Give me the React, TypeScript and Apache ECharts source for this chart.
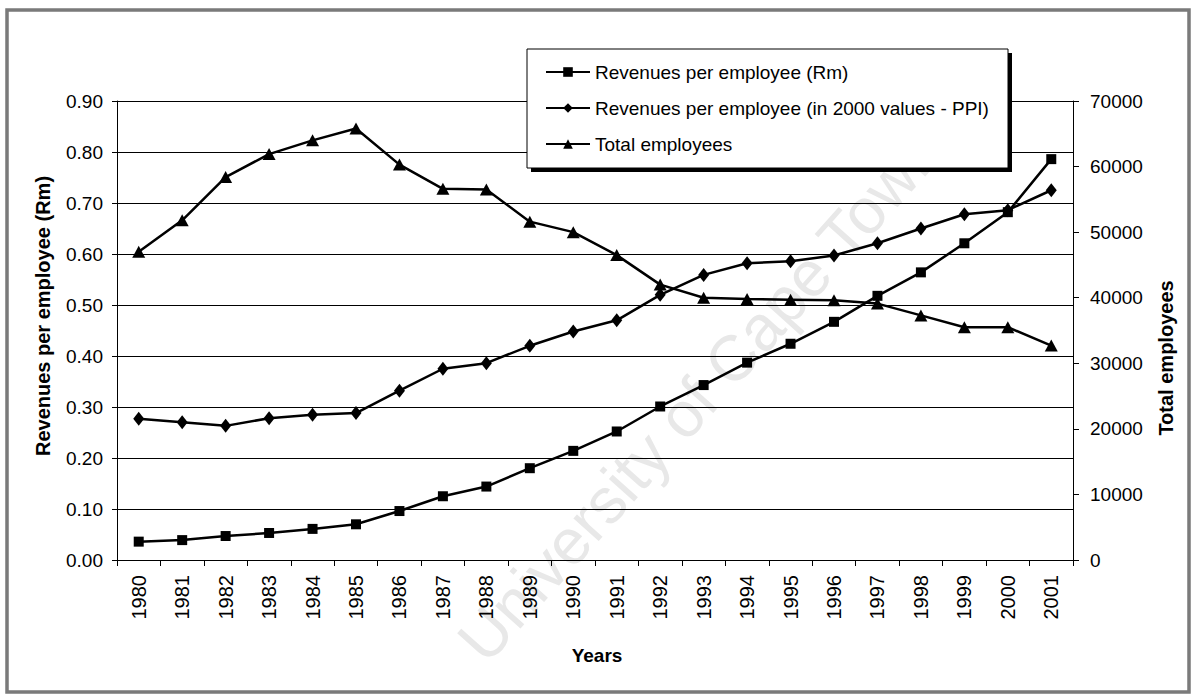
import React, { useEffect, useRef } from "react";
import * as echarts from "echarts";

const years = [
  "1980", "1981", "1982", "1983", "1984", "1985", "1986", "1987", "1988", "1989", "1990",
  "1991", "1992", "1993", "1994", "1995", "1996", "1997", "1998", "1999", "2000", "2001",
];

const revenuesRm = [
  0.036, 0.039, 0.047, 0.053, 0.061, 0.070, 0.096, 0.125, 0.144, 0.180, 0.214,
  0.252, 0.301, 0.343, 0.387, 0.424, 0.467, 0.518, 0.564, 0.621, 0.682, 0.786,
];

const revenuesPPI = [
  0.277, 0.270, 0.263, 0.278, 0.285, 0.288, 0.332, 0.375, 0.386, 0.420, 0.448,
  0.470, 0.520, 0.559, 0.582, 0.586, 0.597, 0.621, 0.650, 0.678, 0.686, 0.725,
];

const totalEmployees = [
  47000, 51800, 58400, 61900, 64000, 65800, 60300, 56600, 56500, 51600, 50000,
  46500, 42000, 40000, 39800, 39700, 39600, 39100, 37300, 35500, 35500, 32700,
];

const seriesNames = [
  "Revenues per employee (Rm)",
  "Revenues per employee (in 2000 values - PPI)",
  "Total employees",
];

const FONT = "'Liberation Sans', Arial, Helvetica, sans-serif";

export default function App() {
  const ref = useRef<HTMLDivElement>(null);

  useEffect(() => {
    if (!ref.current) return;
    const chart = echarts.init(ref.current, null, { renderer: "svg" });
    const black = "#000";
    const option: any = {
      animation: false,
      backgroundColor: "#fff",
      textStyle: { fontFamily: FONT, color: black },
      grid: { left: 117, right: 121, top: 101, bottom: 135, containLabel: false },
      legend: {
        data: seriesNames,
        orient: "vertical",
        left: 545,
        top: 61,
        padding: 0,
        itemWidth: 44,
        itemHeight: 12,
        itemGap: 14,
        selectedMode: false,
        z: 60,
        textStyle: { fontSize: 19, color: black, fontFamily: FONT, lineHeight: 22 },
      },
      xAxis: {
        type: "category",
        data: years,
        boundaryGap: true,
        axisLine: { show: true, lineStyle: { color: black, width: 1 } },
        axisTick: { show: true, length: 6, lineStyle: { color: black } },
        axisLabel: { rotate: 90, margin: 15, fontSize: 20, color: black, interval: 0, fontFamily: FONT },
        splitLine: { show: false },
      },
      yAxis: [
        {
          type: "value",
          min: 0,
          max: 0.9,
          interval: 0.1,
          position: "left",
          axisLine: { show: true, lineStyle: { color: black, width: 1 } },
          axisTick: { show: true, length: 5, lineStyle: { color: black } },
          axisLabel: {
            formatter: (v: number) => v.toFixed(2),
            margin: 14,
            fontSize: 19,
            color: black,
            fontFamily: FONT,
          },
          splitLine: { show: true, lineStyle: { color: black, width: 1 } },
        },
        {
          type: "value",
          min: 0,
          max: 70000,
          interval: 10000,
          position: "right",
          axisLine: { show: true, lineStyle: { color: black, width: 1 } },
          axisTick: { show: true, length: 6, lineStyle: { color: black } },
          axisLabel: {
            formatter: (v: number) => String(Math.round(v)),
            margin: 17,
            fontSize: 19,
            color: black,
            fontFamily: FONT,
          },
          splitLine: { show: false },
        },
      ],
      series: [
        {
          name: seriesNames[0],
          type: "line",
          data: revenuesRm,
          yAxisIndex: 0,
          symbol: "rect",
          symbolSize: 10,
          showAllSymbol: true,
          lineStyle: { color: black, width: 2.5 },
          itemStyle: { color: black },
          z: 3,
        },
        {
          name: seriesNames[1],
          type: "line",
          data: revenuesPPI,
          yAxisIndex: 0,
          symbol: "diamond",
          symbolSize: [11, 14],
          showAllSymbol: true,
          lineStyle: { color: black, width: 2.5 },
          itemStyle: { color: black },
          z: 3,
        },
        {
          name: seriesNames[2],
          type: "line",
          data: totalEmployees,
          yAxisIndex: 1,
          symbol: "triangle",
          symbolSize: [13, 12],
          showAllSymbol: true,
          lineStyle: { color: black, width: 2.5 },
          itemStyle: { color: black },
          z: 3,
        },
      ],
      graphic: [
        {
          type: "text",
          x: 700,
          y: 395,
          rotation: 0.84,
          z: -1,
          style: {
            text: "University of Cape Town",
            fontSize: 64,
            fontFamily: FONT,
            fill: "#e8e8e8",
            textAlign: "center",
            textVerticalAlign: "middle",
          },
        },
        {
          type: "rect",
          z: 1,
          shape: { x: 7, y: 10, width: 1182, height: 682 },
          style: { fill: "none", stroke: "#7a7a7a", lineWidth: 3.5 },
        },
        {
          type: "rect",
          z: 50,
          shape: { x: 531, y: 53, width: 481, height: 119 },
          style: { fill: black },
        },
        {
          type: "rect",
          z: 51,
          shape: { x: 527, y: 49, width: 481, height: 119 },
          style: { fill: "#fff", stroke: black, lineWidth: 1 },
        },
        {
          type: "text",
          x: 43,
          y: 316,
          rotation: Math.PI / 2,
          style: {
            text: "Revenues per employee (Rm)",
            fontSize: 20,
            fontWeight: "bold",
            fontFamily: FONT,
            fill: black,
            textAlign: "center",
            textVerticalAlign: "middle",
          },
        },
        {
          type: "text",
          x: 1166,
          y: 358,
          rotation: Math.PI / 2,
          style: {
            text: "Total employees",
            fontSize: 20,
            fontWeight: "bold",
            fontFamily: FONT,
            fill: black,
            textAlign: "center",
            textVerticalAlign: "middle",
          },
        },
        {
          type: "text",
          x: 597,
          y: 655,
          style: {
            text: "Years",
            fontSize: 19,
            fontWeight: "bold",
            fontFamily: FONT,
            fill: black,
            textAlign: "center",
            textVerticalAlign: "middle",
          },
        },
      ],
    };
    chart.setOption(option);
    return () => {
      chart.dispose();
    };
  }, []);

  return (
    <div
      ref={ref}
      style={{ position: "fixed", left: 0, top: 0, width: 1194, height: 695, background: "#fff" }}
    />
  );
}
